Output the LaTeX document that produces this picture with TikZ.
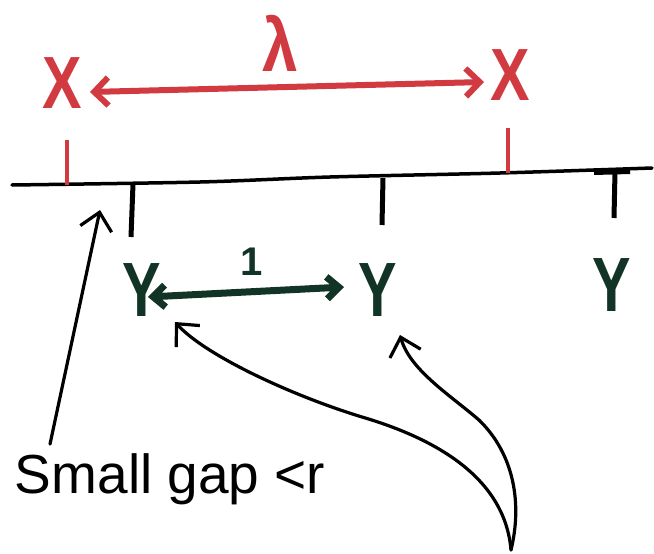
\documentclass[tikz,border=0pt]{standalone}
\usepackage{fontspec}
\setmainfont{Liberation Sans}
\usetikzlibrary{arrows.meta}
\definecolor{inkred}{RGB}{208,58,64}
\definecolor{inkgreen}{RGB}{18,52,38}
\begin{document}
\begin{tikzpicture}[x=1pt,y=-1pt,
  lbl/.style={inner sep=0pt, outer sep=0pt},
  xmark/.style={lbl, text=inkred, font=\fontsize{74}{74}\selectfont\bfseries},
  ymark/.style={lbl, text=inkgreen, font=\fontsize{77}{77}\selectfont\bfseries},
  redarr/.style={draw=inkred, line width=6pt, line cap=round,
    {Straight Barb[length=14pt,width=28pt]}-{Straight Barb[length=14pt,width=28pt]}},
  greenarr/.style={draw=inkgreen, line width=7pt, line cap=round,
    {Straight Barb[length=12pt,width=22pt]}-{Straight Barb[length=12pt,width=22pt]}},
  pointer/.style={draw=black, line width=3.2pt, line cap=round,
    -{Straight Barb[length=17pt,width=32pt]}},
  axisline/.style={line width=3.5pt, black, line cap=round},
  redtick/.style={line width=4.5pt, inkred},
  blacktick/.style={line width=5pt, black},
]
\fill[white] (0,0) rectangle (654,554);
\useasboundingbox (0,0) rectangle (654,554);

% top: X marks with lambda
\node[xmark] (X1) at (62,83) {\scalebox{0.8}[1]{X}};
\node[xmark] (X2) at (510,75) {\scalebox{0.8}[1]{X}};
\node[lbl, text=inkred, font=\fontsize{75}{75}\selectfont\bfseries] (lam) at (280,43) {\scalebox{0.85}[1]{λ}};
\draw[redarr] ([shift={(28,9)}]X1.center) -- ([shift={(-26,7)}]X2.center);

% axis
\draw[axisline] plot[smooth] coordinates {(12,185) (200,182) (330,177) (500,173) (652,168)};
\draw[redtick] (67,140) -- (67,185);
\draw[redtick] (508,128) -- (508,173);
\draw[blacktick] (133,184) -- (131,237);
\draw[blacktick] (383,178) -- (382,225);
\draw[blacktick] (615,172) -- (614,218);
\draw[line width=6pt] (594,172) -- (630,171);

% Y marks
\node[ymark] (Y1) at (142,290) {\scalebox{0.75}[1]{Y}};
\node[ymark] (Y2) at (378,290) {\scalebox{0.75}[1]{Y}};
\node[ymark] (Y3) at (612,285) {\scalebox{0.75}[1]{Y}};
\draw[greenarr] ([shift={(6,7)}]Y1.center) -- ([shift={(-34,-3)}]Y2.center);
\node[lbl, text=inkgreen, font=\fontsize{40}{40}\selectfont\bfseries] (one) at (252,262) {1};

% small gap label
\node[lbl, anchor=base west, font=\fontsize{55}{55}\selectfont] (gap) at (15,493) {Small gap <r};
\coordinate (gaptip) at (100,210);
\draw[pointer] ([shift={(35,-9)}]gap.north west) -- (gaptip);

% curved pointers
\coordinate (src) at (511,550);
\draw[pointer] (src) .. controls (505,480) and (440,440) .. (362,417)
  .. controls (290,395) and (205,355) .. ([shift={(33,32)}]Y1.center);
\draw[pointer] (src) .. controls (522,505) and (515,455) .. (479,420)
  .. controls (450,395) and (410,370) .. ([shift={(22,45)}]Y2.center);
\end{tikzpicture}
\end{document}
